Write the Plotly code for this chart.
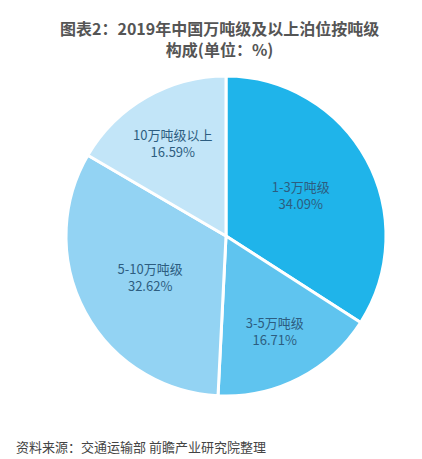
import plotly.graph_objects as go

labels = ["1-3万吨级", "3-5万吨级", "5-10万吨级", "10万吨级以上"]
values = [34.09, 16.71, 32.62, 16.59]
colors = ["#1fb4ea", "#5fc4ef", "#93d3f3", "#c2e5f8"]

W, H = 422, 459
fig = go.Figure(go.Pie(
    labels=labels, values=values, sort=False, direction="clockwise", rotation=0,
    marker=dict(colors=colors, line=dict(color="white", width=3)),
    texttemplate="%{label}<br>%{value:.2f}%", textposition="inside",
    insidetextorientation="horizontal",
    textfont=dict(family="Noto Sans CJK SC", size=13, color="#2d5d80"),
    domain=dict(x=[58/W, 378/W], y=[1-388/H, 1-68/H]),
    showlegend=False, hoverinfo="skip",
))
fig.update_layout(
    width=W, height=H, margin=dict(l=0, r=0, t=0, b=0),
    paper_bgcolor="white", plot_bgcolor="white",
    annotations=[
        dict(text="<b>图表2：2019年中国万吨级及以上泊位按吨级<br>构成(单位：%)</b>", x=0.5, y=1-6/H,
             xref="paper", yref="paper", xanchor="center", yanchor="top", showarrow=False,
             font=dict(family="Noto Sans CJK SC", size=16, color="#555555"), align="center"),
        dict(text="资料来源：交通运输部 前瞻产业研究院整理", x=6/W, y=1-438/H,
             xref="paper", yref="paper", xanchor="left", yanchor="middle", showarrow=False,
             font=dict(family="Noto Sans CJK SC", size=13, color="#444444")),
    ],
)
fig.write_html("out.html")
